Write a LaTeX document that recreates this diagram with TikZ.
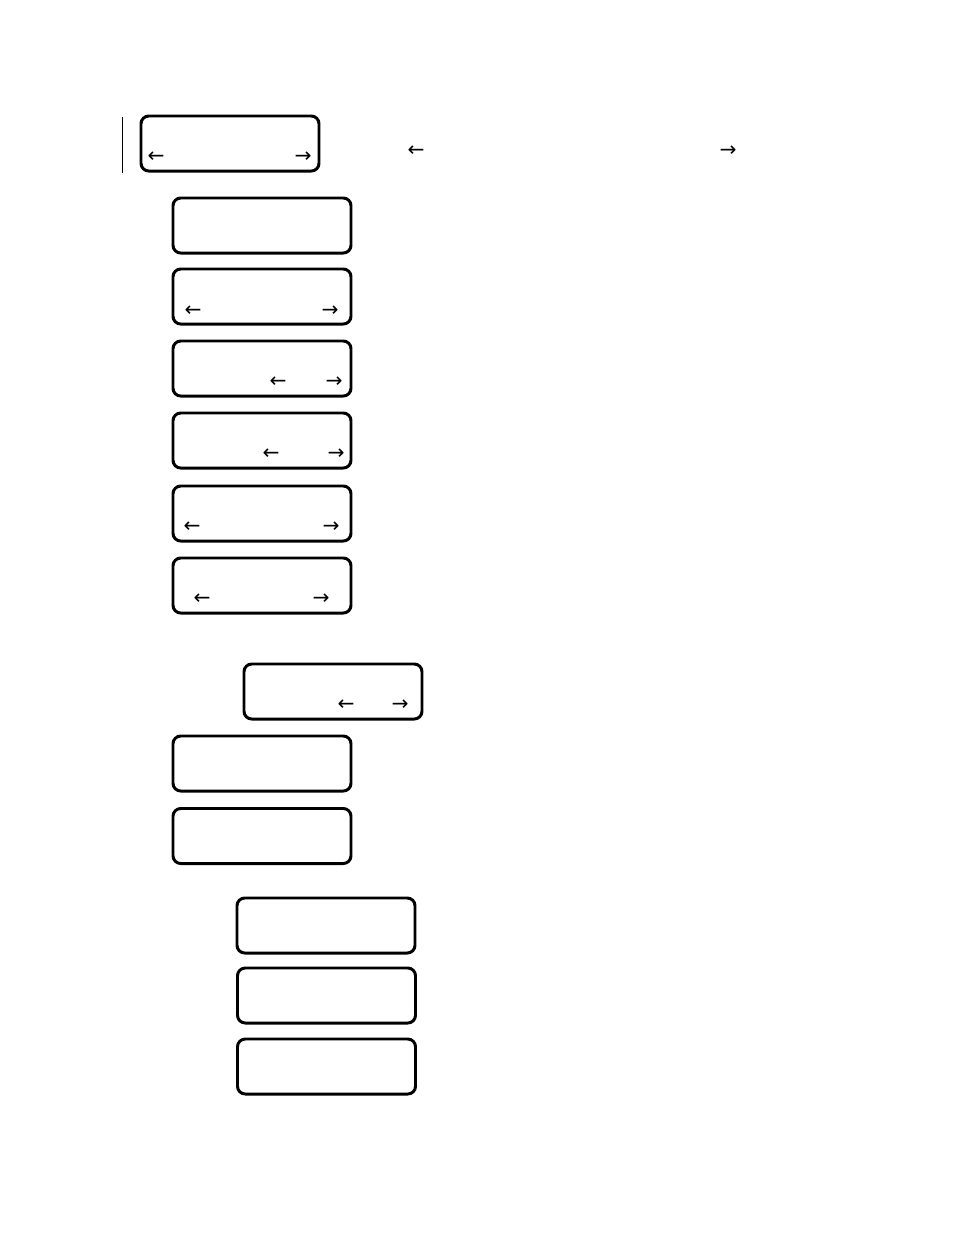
\documentclass[tikz,border=0pt]{standalone}
\usepackage{fontspec}
\newfontfamily\arrowfont{DejaVu Sans}
\begin{document}
\begin{tikzpicture}[x=0.6415pt,y=-0.6415pt,
  panel/.style={draw=black,line width=1.9pt,rounded corners=5pt,minimum width=114.2pt,minimum height=35.3pt,inner sep=0pt},
  arr/.style={inner sep=0pt,anchor=center,font=\arrowfont\fontsize{13}{13}\selectfont}]
\useasboundingbox (0,0) rectangle (954,1235);
\fill[white] (0,0) rectangle (954,1235);
\coordinate (vtop) at (122,117);
\coordinate (vbot) at (122,173);
\draw[line width=0.5pt] (vtop) -- (vbot);
\node[panel] (b1) at (230,143.5) {};
\node[panel] (b2) at (262,225.5) {};
\node[panel] (b3) at (262,296.5) {};
\node[panel] (b4) at (262,368.5) {};
\node[panel] (b5) at (262,440.5) {};
\node[panel] (b6) at (262,513.5) {};
\node[panel] (b7) at (262,585.5) {};
\node[panel] (b8) at (333,691.5) {};
\node[panel] (b9) at (262,763.5) {};
\node[panel] (b10) at (262,836) {};
\node[panel] (b11) at (326,925.5) {};
\node[panel] (b12) at (326.5,995.5) {};
\node[panel] (b13) at (326.5,1066.5) {};
\node[arr] (a1l) at (156,157) {←};
\node[arr] (a1r) at (303,157) {→};
\node[arr] (aol) at (416,151) {←};
\node[arr] (aor) at (728,151) {→};
\node[arr] (a3l) at (193,311) {←};
\node[arr] (a3r) at (330,311) {→};
\node[arr] (a4l) at (278,382) {←};
\node[arr] (a4r) at (334,382) {→};
\node[arr] (a5l) at (271,454) {←};
\node[arr] (a5r) at (336,454) {→};
\node[arr] (a6l) at (192,527) {←};
\node[arr] (a6r) at (331,527) {→};
\node[arr] (a7l) at (202,599) {←};
\node[arr] (a7r) at (321,599) {→};
\node[arr] (a8l) at (346,705) {←};
\node[arr] (a8r) at (400,705) {→};
\end{tikzpicture}
\end{document}
